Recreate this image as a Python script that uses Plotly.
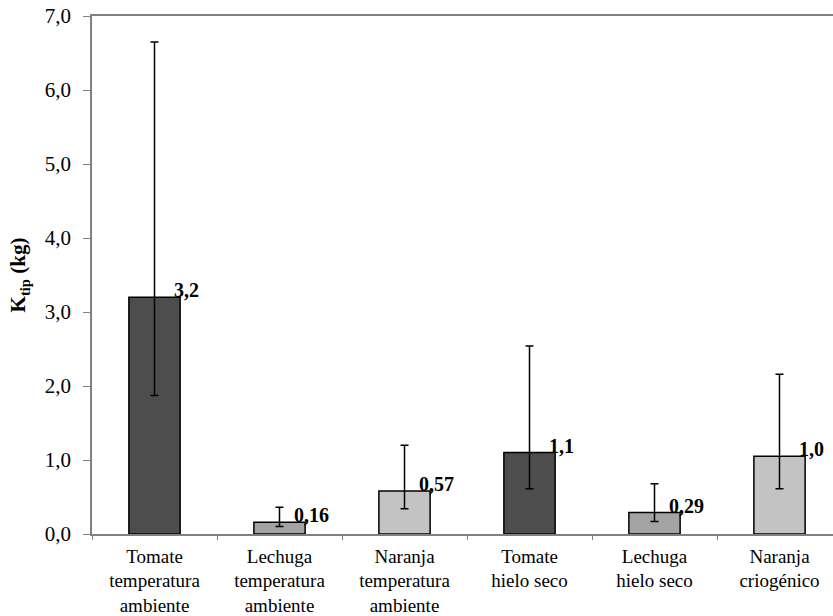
import plotly.graph_objects as go

categories = ["Tomate<br>temperatura<br>ambiente", "Lechuga<br>temperatura<br>ambiente",
              "Naranja<br>temperatura<br>ambiente", "Tomate<br>hielo seco",
              "Lechuga<br>hielo seco", "Naranja<br>criogénico"]
values = [3.2, 0.16, 0.58, 1.1, 0.29, 1.05]
err_upper = [6.65, 0.36, 1.20, 2.54, 0.68, 2.16]
err_lower = [1.87, 0.10, 0.34, 0.61, 0.17, 0.61]
value_labels = ["3,2", "0,16", "0,57", "1,1", "0,29", "1,0"]
bar_colors = ["#4d4d4d", "#a3a3a3", "#c3c3c3", "#4d4d4d", "#a3a3a3", "#c3c3c3"]
y_ticks = [0, 1, 2, 3, 4, 5, 6, 7]

plus = [u - v for u, v in zip(err_upper, values)]
minus = [v - l for v, l in zip(values, err_lower)]

font_family = "Liberation Serif, Times New Roman, serif"

fig = go.Figure()
fig.add_trace(go.Bar(
    x=categories, y=values,
    marker=dict(color=bar_colors, line=dict(color="black", width=1.5)),
    error_y=dict(type="data", symmetric=False, array=plus, arrayminus=minus,
                 color="black", thickness=1.5, width=4),
    width=0.41,
))

for c, v, t in zip(categories, values, value_labels):
    fig.add_annotation(x=c, y=v, text="<b>" + t + "</b>", showarrow=False,
                       xshift=32, yshift=7, yanchor="middle", xanchor="center",
                       font=dict(family=font_family, size=20, color="black"))

fig.update_layout(
    width=833, height=616,
    margin=dict(l=92, r=0, t=16, b=82),
    plot_bgcolor="white", paper_bgcolor="white",
    separators=",.",
    showlegend=False,
    font=dict(family=font_family, size=20, color="black"),
    xaxis=dict(range=[-0.5, 5.428], showline=True, linecolor="#808080", linewidth=1.5,
               mirror=True, ticks="outside", tickson="boundaries", ticklen=4,
               tickcolor="#808080", showgrid=False, tickfont=dict(size=19),
               ticklabelstandoff=4, automargin=False),
    yaxis=dict(range=[0, 7], tickvals=y_ticks, tickformat=".1f", showline=True,
               linecolor="#808080", linewidth=1.5, ticks="outside", ticklen=7,
               tickcolor="#808080", showgrid=False, zeroline=False,
               tickfont=dict(size=21), ticklabelstandoff=8, ticklabeloverflow="allow",
               automargin=False,
               title=dict(text="<b>K<sub>tip</sub> (kg)</b>", font=dict(size=21), standoff=13)),
)

fig.write_html("out.html", config={"displayModeBar": False},
               post_script="document.body.style.margin='0';document.body.style.padding='0';")
